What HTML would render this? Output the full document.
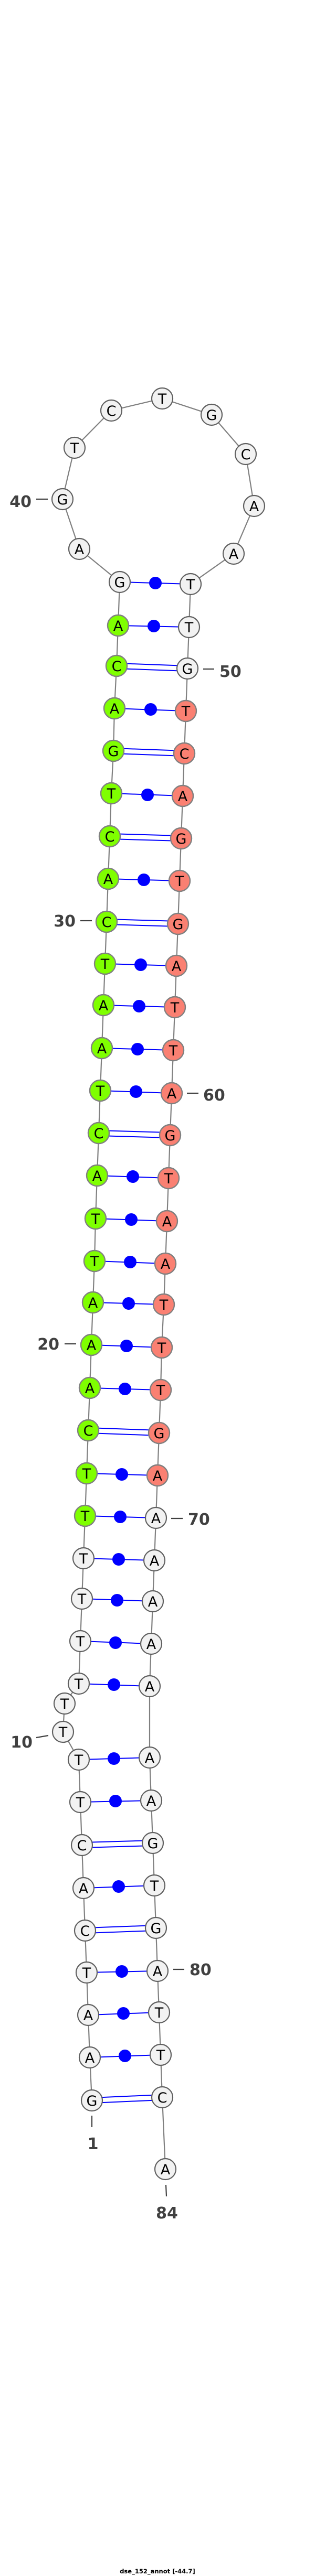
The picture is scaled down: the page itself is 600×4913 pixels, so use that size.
<!DOCTYPE html>
<html><head><meta charset="utf-8"><style>
html,body{margin:0;padding:0;background:#fff}
svg{display:block}
.bb{fill:none;stroke:#808080;stroke-width:2.2}
.pl{stroke:#0000ff;stroke-width:2}
.dt{fill:#0000ff}
.w{fill:#f2f2f2;stroke:#606060;stroke-width:2.2}
.g{fill:#7fff00;stroke:#808080;stroke-width:2.4}
.s{fill:#fa8072;stroke:#808080;stroke-width:2.4}
.n{font-family:"DejaVu Sans","Liberation Sans",sans-serif;font-size:27px;text-anchor:middle;fill:#000}
.lb{font-family:"DejaVu Sans","Liberation Sans",sans-serif;font-size:30px;font-weight:bold;fill:#404040}
.tk{stroke:#404040;stroke-width:2.2}
</style></head><body>
<svg width="600" height="4913" viewBox="0 0 600 4913" xmlns="http://www.w3.org/2000/svg">
<polyline class="bb" points="175,4006 171,3924 168,3843 165,3762 162,3682 159,3601 156,3519 153,3437 150,3356 120,3303 123,3249 150,3211 153,3130 156,3049 159,2972 162,2891 165,2810 168,2728 171,2647 174,2565 177,2484 180,2405 182,2324 185,2242 188,2161 191,2080 194,1999 197,1917 200,1838 203,1758 206,1676 209,1595 212,1513 216,1432 218,1351 222,1270 225,1193 228,1110 151,1047 119,952 142,854 212,783 309,760 403,791 468,866 484,965 445,1056 363,1114 360,1196 357,1275 354,1356 351,1437 348,1518 345,1599 342,1680 339,1762 336,1842 333,1921 330,2003 327,2085 324,2165 321,2247 318,2329 315,2410 312,2488 308,2570 306,2651 303,2733 300,2814 297,2895 294,2976 291,3054 288,3135 285,3216 285,3352 288,3434 291,3515 294,3596 297,3677 300,3759 303,3838 306,3919 309,4000 315,4137"/>
<!-- pairs -->
<g>
<line class="pl" x1="175" y1="4001" x2="309" y2="3995"/><line class="pl" x1="175" y1="4011" x2="309" y2="4005"/>
<line class="pl" x1="171" y1="3924" x2="306" y2="3919"/><circle class="dt" cx="238" cy="3921" r="12"/>
<line class="pl" x1="168" y1="3843" x2="303" y2="3838"/><circle class="dt" cx="235" cy="3840" r="12"/>
<line class="pl" x1="165" y1="3762" x2="300" y2="3759"/><circle class="dt" cx="232" cy="3760" r="12"/>
<line class="pl" x1="162" y1="3677" x2="297" y2="3672"/><line class="pl" x1="162" y1="3687" x2="297" y2="3682"/>
<line class="pl" x1="159" y1="3601" x2="294" y2="3596"/><circle class="dt" cx="226" cy="3598" r="12"/>
<line class="pl" x1="156" y1="3514" x2="291" y2="3510"/><line class="pl" x1="156" y1="3524" x2="291" y2="3520"/>
<line class="pl" x1="153" y1="3437" x2="288" y2="3434"/><circle class="dt" cx="220" cy="3435" r="12"/>
<line class="pl" x1="150" y1="3356" x2="285" y2="3352"/><circle class="dt" cx="217" cy="3354" r="12"/>
<line class="pl" x1="150" y1="3211" x2="285" y2="3216"/><circle class="dt" cx="217" cy="3213" r="12"/>
<line class="pl" x1="153" y1="3130" x2="288" y2="3135"/><circle class="dt" cx="220" cy="3133" r="12"/>
<line class="pl" x1="156" y1="3049" x2="291" y2="3054"/><circle class="dt" cx="223" cy="3052" r="12"/>
<line class="pl" x1="159" y1="2972" x2="294" y2="2976"/><circle class="dt" cx="226" cy="2974" r="12"/>
<line class="pl" x1="162" y1="2891" x2="297" y2="2895"/><circle class="dt" cx="229" cy="2893" r="12"/>
<line class="pl" x1="165" y1="2810" x2="300" y2="2814"/><circle class="dt" cx="232" cy="2812" r="12"/>
<line class="pl" x1="168" y1="2723" x2="303" y2="2728"/><line class="pl" x1="168" y1="2733" x2="303" y2="2738"/>
<line class="pl" x1="171" y1="2647" x2="306" y2="2651"/><circle class="dt" cx="238" cy="2649" r="12"/>
<line class="pl" x1="174" y1="2565" x2="308" y2="2570"/><circle class="dt" cx="241" cy="2567" r="12"/>
<line class="pl" x1="177" y1="2484" x2="312" y2="2488"/><circle class="dt" cx="245" cy="2486" r="12"/>
<line class="pl" x1="180" y1="2405" x2="315" y2="2410"/><circle class="dt" cx="248" cy="2407" r="12"/>
<line class="pl" x1="182" y1="2324" x2="318" y2="2329"/><circle class="dt" cx="250" cy="2326" r="12"/>
<line class="pl" x1="185" y1="2242" x2="321" y2="2247"/><circle class="dt" cx="253" cy="2244" r="12"/>
<line class="pl" x1="188" y1="2156" x2="324" y2="2160"/><line class="pl" x1="188" y1="2166" x2="324" y2="2170"/>
<line class="pl" x1="191" y1="2080" x2="327" y2="2085"/><circle class="dt" cx="259" cy="2082" r="12"/>
<line class="pl" x1="194" y1="1999" x2="330" y2="2003"/><circle class="dt" cx="262" cy="2001" r="12"/>
<line class="pl" x1="197" y1="1917" x2="333" y2="1921"/><circle class="dt" cx="265" cy="1919" r="12"/>
<line class="pl" x1="200" y1="1838" x2="336" y2="1842"/><circle class="dt" cx="268" cy="1840" r="12"/>
<line class="pl" x1="203" y1="1753" x2="339" y2="1757"/><line class="pl" x1="203" y1="1763" x2="339" y2="1767"/>
<line class="pl" x1="206" y1="1676" x2="342" y2="1680"/><circle class="dt" cx="274" cy="1678" r="12"/>
<line class="pl" x1="209" y1="1590" x2="345" y2="1594"/><line class="pl" x1="209" y1="1600" x2="345" y2="1604"/>
<line class="pl" x1="212" y1="1513" x2="348" y2="1518"/><circle class="dt" cx="281" cy="1516" r="12"/>
<line class="pl" x1="216" y1="1427" x2="351" y2="1432"/><line class="pl" x1="216" y1="1437" x2="351" y2="1442"/>
<line class="pl" x1="218" y1="1351" x2="354" y2="1356"/><circle class="dt" cx="287" cy="1353" r="12"/>
<line class="pl" x1="222" y1="1265" x2="357" y2="1270"/><line class="pl" x1="222" y1="1275" x2="357" y2="1280"/>
<line class="pl" x1="225" y1="1193" x2="360" y2="1196"/><circle class="dt" cx="293" cy="1194" r="12"/>
<line class="pl" x1="228" y1="1110" x2="363" y2="1114"/><circle class="dt" cx="296" cy="1112" r="12"/>
</g>
<!-- nodes -->
<g>
<circle class="w" cx="175" cy="4006" r="20"/><text class="n" x="175" y="4016">G</text>
<circle class="w" cx="171" cy="3924" r="20"/><text class="n" x="171" y="3934">A</text>
<circle class="w" cx="168" cy="3843" r="20"/><text class="n" x="168" y="3853">A</text>
<circle class="w" cx="165" cy="3762" r="20"/><text class="n" x="165" y="3772">T</text>
<circle class="w" cx="162" cy="3682" r="20"/><text class="n" x="162" y="3692">C</text>
<circle class="w" cx="159" cy="3601" r="20"/><text class="n" x="159" y="3611">A</text>
<circle class="w" cx="156" cy="3519" r="20"/><text class="n" x="156" y="3529">C</text>
<circle class="w" cx="153" cy="3437" r="20"/><text class="n" x="153" y="3447">T</text>
<circle class="w" cx="150" cy="3356" r="20"/><text class="n" x="150" y="3366">T</text>
<circle class="w" cx="120" cy="3303" r="20"/><text class="n" x="120" y="3313">T</text>
<circle class="w" cx="123" cy="3249" r="20"/><text class="n" x="123" y="3259">T</text>
<circle class="w" cx="150" cy="3211" r="20"/><text class="n" x="150" y="3221">T</text>
<circle class="w" cx="153" cy="3130" r="20"/><text class="n" x="153" y="3140">T</text>
<circle class="w" cx="156" cy="3049" r="20"/><text class="n" x="156" y="3059">T</text>
<circle class="w" cx="159" cy="2972" r="20"/><text class="n" x="159" y="2982">T</text>
<circle class="g" cx="162" cy="2891" r="20"/><text class="n" x="162" y="2901">T</text>
<circle class="g" cx="165" cy="2810" r="20"/><text class="n" x="165" y="2820">T</text>
<circle class="g" cx="168" cy="2728" r="20"/><text class="n" x="168" y="2738">C</text>
<circle class="g" cx="171" cy="2647" r="20"/><text class="n" x="171" y="2657">A</text>
<circle class="g" cx="174" cy="2565" r="20"/><text class="n" x="174" y="2575">A</text>
<circle class="g" cx="177" cy="2484" r="20"/><text class="n" x="177" y="2494">A</text>
<circle class="g" cx="180" cy="2405" r="20"/><text class="n" x="180" y="2415">T</text>
<circle class="g" cx="182" cy="2324" r="20"/><text class="n" x="182" y="2334">T</text>
<circle class="g" cx="185" cy="2242" r="20"/><text class="n" x="185" y="2252">A</text>
<circle class="g" cx="188" cy="2161" r="20"/><text class="n" x="188" y="2171">C</text>
<circle class="g" cx="191" cy="2080" r="20"/><text class="n" x="191" y="2090">T</text>
<circle class="g" cx="194" cy="1999" r="20"/><text class="n" x="194" y="2009">A</text>
<circle class="g" cx="197" cy="1917" r="20"/><text class="n" x="197" y="1927">A</text>
<circle class="g" cx="200" cy="1838" r="20"/><text class="n" x="200" y="1848">T</text>
<circle class="g" cx="203" cy="1758" r="20"/><text class="n" x="203" y="1768">C</text>
<circle class="g" cx="206" cy="1676" r="20"/><text class="n" x="206" y="1686">A</text>
<circle class="g" cx="209" cy="1595" r="20"/><text class="n" x="209" y="1605">C</text>
<circle class="g" cx="212" cy="1513" r="20"/><text class="n" x="212" y="1523">T</text>
<circle class="g" cx="216" cy="1432" r="20"/><text class="n" x="216" y="1442">G</text>
<circle class="g" cx="218" cy="1351" r="20"/><text class="n" x="218" y="1361">A</text>
<circle class="g" cx="222" cy="1270" r="20"/><text class="n" x="222" y="1280">C</text>
<circle class="g" cx="225" cy="1193" r="20"/><text class="n" x="225" y="1203">A</text>
<circle class="w" cx="228" cy="1110" r="20"/><text class="n" x="228" y="1120">G</text>
<circle class="w" cx="151" cy="1047" r="20"/><text class="n" x="151" y="1057">A</text>
<circle class="w" cx="119" cy="952" r="20"/><text class="n" x="119" y="962">G</text>
<circle class="w" cx="142" cy="854" r="20"/><text class="n" x="142" y="864">T</text>
<circle class="w" cx="212" cy="783" r="20"/><text class="n" x="212" y="793">C</text>
<circle class="w" cx="309" cy="760" r="20"/><text class="n" x="309" y="770">T</text>
<circle class="w" cx="403" cy="791" r="20"/><text class="n" x="403" y="801">G</text>
<circle class="w" cx="468" cy="866" r="20"/><text class="n" x="468" y="876">C</text>
<circle class="w" cx="484" cy="965" r="20"/><text class="n" x="484" y="975">A</text>
<circle class="w" cx="445" cy="1056" r="20"/><text class="n" x="445" y="1066">A</text>
<circle class="w" cx="363" cy="1114" r="20"/><text class="n" x="363" y="1124">T</text>
<circle class="w" cx="360" cy="1196" r="20"/><text class="n" x="360" y="1206">T</text>
<circle class="w" cx="357" cy="1275" r="20"/><text class="n" x="357" y="1285">G</text>
<circle class="s" cx="354" cy="1356" r="20"/><text class="n" x="354" y="1366">T</text>
<circle class="s" cx="351" cy="1437" r="20"/><text class="n" x="351" y="1447">C</text>
<circle class="s" cx="348" cy="1518" r="20"/><text class="n" x="348" y="1528">A</text>
<circle class="s" cx="345" cy="1599" r="20"/><text class="n" x="345" y="1609">G</text>
<circle class="s" cx="342" cy="1680" r="20"/><text class="n" x="342" y="1690">T</text>
<circle class="s" cx="339" cy="1762" r="20"/><text class="n" x="339" y="1772">G</text>
<circle class="s" cx="336" cy="1842" r="20"/><text class="n" x="336" y="1852">A</text>
<circle class="s" cx="333" cy="1921" r="20"/><text class="n" x="333" y="1931">T</text>
<circle class="s" cx="330" cy="2003" r="20"/><text class="n" x="330" y="2013">T</text>
<circle class="s" cx="327" cy="2085" r="20"/><text class="n" x="327" y="2095">A</text>
<circle class="s" cx="324" cy="2165" r="20"/><text class="n" x="324" y="2175">G</text>
<circle class="s" cx="321" cy="2247" r="20"/><text class="n" x="321" y="2257">T</text>
<circle class="s" cx="318" cy="2329" r="20"/><text class="n" x="318" y="2339">A</text>
<circle class="s" cx="315" cy="2410" r="20"/><text class="n" x="315" y="2420">A</text>
<circle class="s" cx="312" cy="2488" r="20"/><text class="n" x="312" y="2498">T</text>
<circle class="s" cx="308" cy="2570" r="20"/><text class="n" x="308" y="2580">T</text>
<circle class="s" cx="306" cy="2651" r="20"/><text class="n" x="306" y="2661">T</text>
<circle class="s" cx="303" cy="2733" r="20"/><text class="n" x="303" y="2743">G</text>
<circle class="s" cx="300" cy="2814" r="20"/><text class="n" x="300" y="2824">A</text>
<circle class="w" cx="297" cy="2895" r="20"/><text class="n" x="297" y="2905">A</text>
<circle class="w" cx="294" cy="2976" r="20"/><text class="n" x="294" y="2986">A</text>
<circle class="w" cx="291" cy="3054" r="20"/><text class="n" x="291" y="3064">A</text>
<circle class="w" cx="288" cy="3135" r="20"/><text class="n" x="288" y="3145">A</text>
<circle class="w" cx="285" cy="3216" r="20"/><text class="n" x="285" y="3226">A</text>
<circle class="w" cx="285" cy="3352" r="20"/><text class="n" x="285" y="3362">A</text>
<circle class="w" cx="288" cy="3434" r="20"/><text class="n" x="288" y="3444">A</text>
<circle class="w" cx="291" cy="3515" r="20"/><text class="n" x="291" y="3525">G</text>
<circle class="w" cx="294" cy="3596" r="20"/><text class="n" x="294" y="3606">T</text>
<circle class="w" cx="297" cy="3677" r="20"/><text class="n" x="297" y="3687">G</text>
<circle class="w" cx="300" cy="3759" r="20"/><text class="n" x="300" y="3769">A</text>
<circle class="w" cx="303" cy="3838" r="20"/><text class="n" x="303" y="3848">T</text>
<circle class="w" cx="306" cy="3919" r="20"/><text class="n" x="306" y="3929">T</text>
<circle class="w" cx="309" cy="4000" r="20"/><text class="n" x="309" y="4010">C</text>
<circle class="w" cx="315" cy="4137" r="20"/><text class="n" x="315" y="4147">A</text>
</g>
<!-- labels -->
<g>
<line class="tk" x1="69" y1="952" x2="91" y2="952"/><text class="lb" x="60" y="967" text-anchor="end">40</text>
<line class="tk" x1="387" y1="1276" x2="408" y2="1276"/><text class="lb" x="418" y="1291">50</text>
<line class="tk" x1="153" y1="1756" x2="175" y2="1756"/><text class="lb" x="144" y="1767" text-anchor="end">30</text>
<line class="tk" x1="356" y1="2085" x2="378" y2="2085"/><text class="lb" x="387" y="2099">60</text>
<line class="tk" x1="123" y1="2563" x2="145" y2="2563"/><text class="lb" x="113" y="2574" text-anchor="end">20</text>
<line class="tk" x1="326" y1="2896" x2="348" y2="2896"/><text class="lb" x="358" y="2908">70</text>
<line class="tk" x1="69" y1="3314" x2="92" y2="3310"/><text class="lb" x="62" y="3333" text-anchor="end">10</text>
<line class="tk" x1="330" y1="3756" x2="351" y2="3756"/><text class="lb" x="361" y="3767">80</text>
<line class="tk" x1="175" y1="4035" x2="175" y2="4057"/><text class="lb" x="177" y="4099" text-anchor="middle">1</text>
<line class="tk" x1="316" y1="4167" x2="317" y2="4189"/><text class="lb" x="318" y="4231" text-anchor="middle">84</text>
</g>
<text x="300" y="4908" text-anchor="middle" style="font-family:'DejaVu Sans','Liberation Sans',sans-serif;font-size:11.5px;font-weight:bold;fill:#000">dse_152_annot [-44.7]</text>
</svg>
</body></html>
